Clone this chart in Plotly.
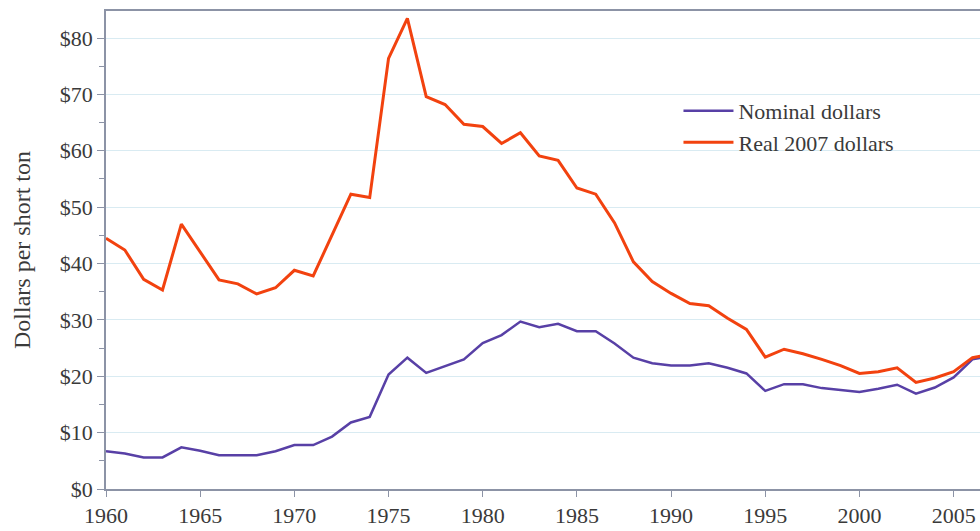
import plotly.graph_objects as go

years = list(range(1960, 2008))

nominal = [6.7, 6.3, 5.6, 5.6, 7.4, 6.8, 6.0, 6.0, 6.0, 6.7,
           7.8, 7.8, 9.3, 11.8, 12.8, 20.3, 23.3, 20.6, 21.8, 23.0,
           25.9, 27.3, 29.7, 28.7, 29.3, 28.0, 28.0, 25.8, 23.3, 22.3,
           21.9, 21.9, 22.3, 21.5, 20.5, 17.4, 18.6, 18.6, 17.9, 17.6,
           17.2, 17.8, 18.5, 16.9, 18.0, 19.8, 23.0, 23.6]

real2007 = [44.5, 42.4, 37.2, 35.3, 47.0, 42.0, 37.1, 36.4, 34.6, 35.7,
            38.8, 37.8, 45.0, 52.3, 51.7, 76.4, 83.5, 69.6, 68.2, 64.7,
            64.3, 61.3, 63.2, 59.1, 58.3, 53.4, 52.3, 47.2, 40.3, 36.8,
            34.7, 32.9, 32.5, 30.3, 28.3, 23.4, 24.8, 24.0, 23.0, 21.9,
            20.5, 20.8, 21.5, 18.9, 19.7, 20.8, 23.3, 23.9]

y_tickvals = [0, 10, 20, 30, 40, 50, 60, 70, 80]
y_ticktext = ["$0", "$10", "$20", "$30", "$40", "$50", "$60", "$70", "$80"]

font_family = "Liberation Serif, Times New Roman, serif"
text_color = "#3a3a3a"
axis_color = "#8c93a6"
grid_color = "#d9ebf2"

fig = go.Figure()
fig.add_trace(go.Scatter(x=years, y=nominal, mode="lines", name="Nominal dollars",
                         line=dict(color="#5840a6", width=2.5)))
fig.add_trace(go.Scatter(x=years, y=real2007, mode="lines", name="Real 2007 dollars",
                         line=dict(color="#f2420f", width=3)))

fig.update_layout(
    width=980, height=531,
    margin=dict(l=106, r=0, t=11, b=42, autoexpand=False),
    paper_bgcolor="white", plot_bgcolor="white",
    font=dict(family=font_family, size=22, color=text_color),
    showlegend=True,
    legend=dict(x=0.655, y=0.835, xanchor="left", yanchor="top",
                bgcolor="rgba(0,0,0,0)", itemwidth=50,
                font=dict(family=font_family, size=22, color=text_color),
                tracegroupgap=0),
)

fig.update_xaxes(
    range=[1960, 2006.4], dtick=5, tick0=1960,
    showgrid=False, zeroline=False, automargin=False,
    showline=True, linecolor=axis_color, linewidth=1.5, mirror=True,
    ticks="outside", ticklen=6, tickcolor=axis_color,
    tickfont=dict(family=font_family, size=22, color=text_color),
)

fig.update_yaxes(
    range=[0, 84.8], tickvals=y_tickvals, ticktext=y_ticktext,
    showgrid=True, gridcolor=grid_color, gridwidth=1,
    zeroline=False, automargin=False,
    showline=True, linecolor=axis_color, linewidth=1.5,
    ticks="outside", ticklen=7, tickcolor=axis_color,
    minor=dict(dtick=5, tick0=0, ticks="outside", ticklen=5, tickcolor=axis_color, showgrid=False),
    tickfont=dict(family=font_family, size=22, color=text_color),
    title=dict(text="Dollars per short ton", standoff=22,
               font=dict(family=font_family, size=24, color=text_color)),
)

fig.write_html(
    "out.html",
    config={"displayModeBar": False},
    post_script="document.body.style.margin='0';document.body.style.overflow='hidden';",
)
